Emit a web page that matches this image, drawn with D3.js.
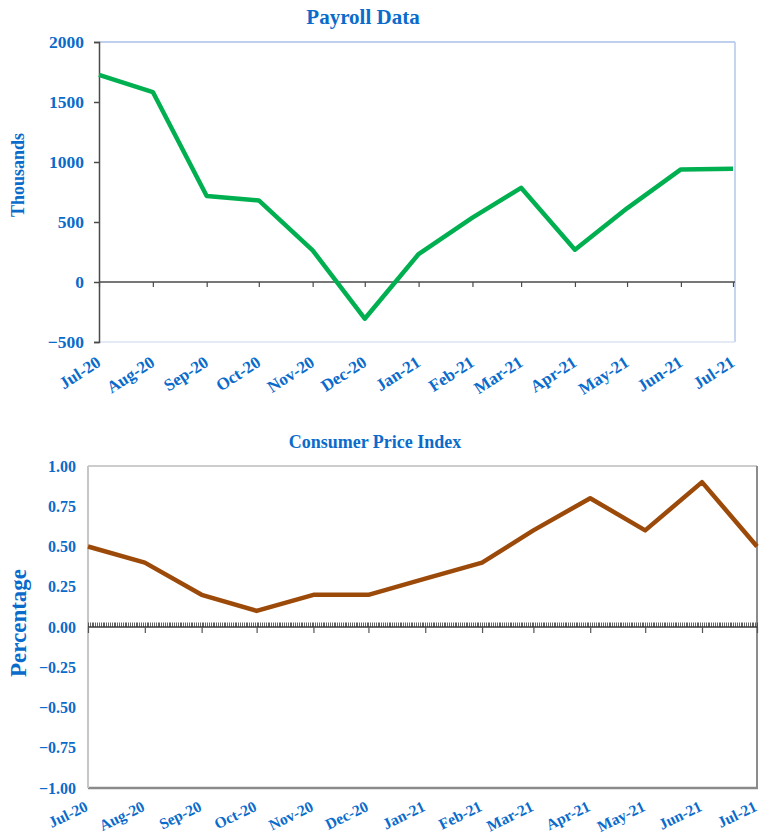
<!DOCTYPE html>
<html>
<head>
<meta charset="utf-8">
<script src="https://cdn.jsdelivr.net/npm/d3@7"></script>
<style>
  html, body { margin: 0; padding: 0; background: #fff; }
  svg { display: block; }
  text { font-family: "Liberation Serif", "Times New Roman", serif; font-weight: bold; fill: #0a6bcb; }
</style>
</head>
<body>
<svg id="chart" width="770" height="837"></svg>
<script>
// Monthly labels shared by both panels
const months = ["Jul-20","Aug-20","Sep-20","Oct-20","Nov-20","Dec-20","Jan-21","Feb-21","Mar-21","Apr-21","May-21","Jun-21","Jul-21"];
// Nonfarm payroll change, thousands
const payroll = [1726, 1583, 716, 680, 264, -306, 233, 536, 785, 269, 614, 938, 943];
// CPI monthly change, percent
const cpi = [0.5, 0.4, 0.2, 0.1, 0.2, 0.2, 0.3, 0.4, 0.6, 0.8, 0.6, 0.9, 0.5];
const payrollTicks = [2000, 1500, 1000, 500, 0, -500];
const cpiTicks = [1.00, 0.75, 0.50, 0.25, 0.00, -0.25, -0.50, -0.75, -1.00];

const parseMonth = d3.utcParse("%b-%y");
const dates = months.map(parseMonth);
const svg = d3.select("#chart");

// ---------- Payroll panel ----------
{
  const L = 99, R = 735, T = 42, B = 342;
  const x = d3.scaleUtc().domain(d3.extent(dates)).range([L, R - 2]);
  const y = d3.scaleLinear().domain([-500, 2000]).range([B, T]);
  const g = svg.append("g");

  g.append("text").attr("x", 363).attr("y", 24).attr("text-anchor", "middle")
    .style("font-size", "21px").text("Payroll Data");

  // plot frame (light blue)
  g.append("line").attr("x1", L).attr("x2", R).attr("y1", T).attr("y2", T)
    .attr("stroke", "#a9c0e8").attr("stroke-width", 1.5);
  g.append("line").attr("x1", R).attr("x2", R).attr("y1", T).attr("y2", B)
    .attr("stroke", "#b3c8ec").attr("stroke-width", 1.5);
  g.append("line").attr("x1", L).attr("x2", R).attr("y1", B).attr("y2", B)
    .attr("stroke", "#dbe4f5").attr("stroke-width", 1.5);

  // value axis
  const ya = g.append("g").attr("transform", `translate(${L},0)`)
    .call(d3.axisLeft(y).tickValues(payrollTicks).tickSize(5).tickPadding(10).tickFormat(d3.format("d")));
  ya.select(".domain").attr("stroke", "#4a4a4a").attr("stroke-width", 1.5);
  ya.selectAll(".tick line").attr("stroke", "#4a4a4a").attr("stroke-width", 1.5);
  ya.selectAll(".tick text").style("font-size", "17.5px").style("font-family", null).attr("fill", null);

  // zero line with month ticks
  const xa = g.append("g").attr("transform", `translate(0,${y(0)})`)
    .call(d3.axisBottom(x).tickValues(dates).tickSize(5).tickFormat(""));
  xa.select(".domain").attr("stroke", "#4a4a4a").attr("stroke-width", 1.5).attr("d", `M${L},0H${R}`);
  xa.selectAll(".tick line").attr("stroke", "#4a4a4a").attr("stroke-width", 1.2);

  // rotated month labels below plot
  g.selectAll(".mlab").data(dates).join("text").attr("class", "mlab")
    .attr("transform", (d) => `translate(${x(d) + 3},${B + 23}) rotate(-33)`)
    .attr("text-anchor", "end").style("font-size", "17px")
    .text((d, i) => months[i]);

  g.append("text").attr("transform", `translate(24,${(T + B) / 2 - 17}) rotate(-90)`)
    .attr("text-anchor", "middle").style("font-size", "18px").text("Thousands");

  g.append("path").datum(payroll)
    .attr("d", d3.line().x((d, i) => x(dates[i])).y((d) => y(d)))
    .attr("fill", "none").attr("stroke", "#00b050").attr("stroke-width", 4.5)
    .attr("stroke-linejoin", "round");
}

// ---------- CPI panel ----------
{
  const L = 88, R = 757, T = 466, B = 788;
  const x = d3.scaleUtc().domain(d3.extent(dates)).range([L, R]);
  const y = d3.scaleLinear().domain([-1, 1]).range([B, T]);
  const g = svg.append("g");

  g.append("text").attr("x", 375).attr("y", 448).attr("text-anchor", "middle")
    .style("font-size", "18px").text("Consumer Price Index");

  // frame
  g.append("line").attr("x1", L).attr("x2", R).attr("y1", T).attr("y2", T)
    .attr("stroke", "#9a9a9a").attr("stroke-width", 1);
  g.append("line").attr("x1", R).attr("x2", R).attr("y1", T).attr("y2", B)
    .attr("stroke", "#8c8c8c").attr("stroke-width", 2);
  g.append("line").attr("x1", L).attr("x2", R + 1).attr("y1", B).attr("y2", B)
    .attr("stroke", "#8a8a8a").attr("stroke-width", 2.5);
  g.append("line").attr("x1", L).attr("x2", L).attr("y1", T).attr("y2", B)
    .attr("stroke", "#c6c6c6").attr("stroke-width", 2);

  // tick labels for value axis
  const ya = g.append("g").attr("transform", `translate(${L},0)`)
    .call(d3.axisLeft(y).tickValues(cpiTicks).tickSize(0).tickPadding(12).tickFormat(d3.format(".2f")));
  ya.select(".domain").remove();
  ya.selectAll(".tick text").style("font-size", "16px").style("font-family", null).attr("fill", null);

  // zero line: daily minor ticks above, month ticks below
  const days = d3.utcDay.range(dates[0], d3.utcDay.offset(dates[dates.length - 1], 1));
  g.append("g").selectAll("line").data(days).join("line")
    .attr("x1", (d) => Math.round(x(d)) + 0.5).attr("x2", (d) => Math.round(x(d)) + 0.5)
    .attr("y1", y(0) - 4.5).attr("y2", y(0))
    .attr("stroke", "#3a3a3a").attr("stroke-width", 0.8);
  const xa = g.append("g").attr("transform", `translate(0,${y(0)})`)
    .call(d3.axisBottom(x).tickValues(dates).tickSize(6).tickFormat(""));
  xa.select(".domain").attr("stroke", "#3a3a3a").attr("stroke-width", 1.5).attr("d", `M${L},0H${R}`);
  xa.selectAll(".tick line").attr("stroke", "#555").attr("stroke-width", 1.2);

  g.selectAll(".mlab").data(dates).join("text").attr("class", "mlab")
    .attr("transform", (d) => `translate(${x(d) + 1},${B + 22}) rotate(-26)`)
    .attr("text-anchor", "end").style("font-size", "15.5px")
    .text((d, i) => months[i]);

  g.append("text").attr("transform", `translate(26,623) rotate(-90)`)
    .attr("text-anchor", "middle").style("font-size", "23px").text("Percentage");

  g.append("path").datum(cpi)
    .attr("d", d3.line().x((d, i) => x(dates[i])).y((d) => y(d)))
    .attr("fill", "none").attr("stroke", "#9c4a0a").attr("stroke-width", 4.5)
    .attr("stroke-linejoin", "round");
}
</script>
</body>
</html>
